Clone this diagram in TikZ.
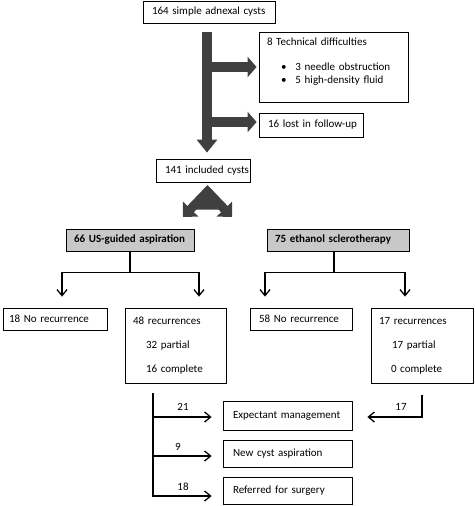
\documentclass[tikz,border=0pt]{standalone}
\usepackage{fontspec}
\setmainfont{Carlito}
\usetikzlibrary{arrows.meta,calc}
\definecolor{fatgray}{HTML}{404040}
\definecolor{boxgray}{HTML}{C8C8C8}
\begin{document}
\begin{tikzpicture}[x=1pt,y=-1pt,
  box/.style={draw, line width=0.8pt, align=left, font=\fontsize{11}{13}\selectfont, inner ysep=2pt, inner xsep=0pt},
  gbox/.style={box, fill=boxgray, font=\fontsize{11}{13}\selectfont\bfseries},
  thinline/.style={line width=1.3pt},
  arr/.style={thinline, -{Straight Barb[length=6pt,width=10pt]}},
  fat/.style={line width=10pt, draw=fatgray, fill=fatgray},
  lbl/.style={font=\fontsize{11}{13}\selectfont, inner sep=0pt}
]
\useasboundingbox (0,0) rectangle (474,506);

% boxes
\node[box, minimum width=132pt, minimum height=22pt, text width=132pt] (n164) at (209,12) {\hspace*{9pt}164 simple adnexal cysts};
\node[box, minimum width=149pt, minimum height=70pt, text width=149pt, text depth=50pt] (tech) at (333.5,67)
  {\hspace*{8pt}8 Technical difficulties\\[12pt]
   \hspace*{22pt}•\hspace{9pt}3 needle obstruction\\
   \hspace*{22pt}•\hspace{9pt}5 high-density fluid};
\node[box, minimum width=104pt, minimum height=24pt, text width=104pt] (lost) at (311,125) {\hspace*{9pt}16 lost in follow-up};
\node[box, minimum width=94pt, minimum height=23pt, text width=94pt] (inc) at (203,170.5) {\hspace*{9pt}141 included cysts};
\node[gbox, minimum width=128pt, minimum height=22pt, text width=128pt] (us) at (130,240) {\hspace*{8pt}66 US-guided aspiration};
\node[gbox, minimum width=142pt, minimum height=22pt, text width=142pt] (eth) at (338,240) {\hspace*{8pt}75 ethanol sclerotherapy};
\node[box, minimum width=104pt, minimum height=22pt, text width=104pt] (no18) at (55,319) {\hspace*{6pt}18 No recurrence};
\node[box, minimum width=101pt, minimum height=75pt, text width=101pt] (rec48) at (175.5,345.5)
  {\hspace*{8pt}48 recurrences\\[11pt]\hspace*{21pt}32 partial\\[11pt]\hspace*{21pt}16 complete};
\node[box, minimum width=102pt, minimum height=22pt, text width=102pt] (no58) at (301,319) {\hspace*{9pt}58 No recurrence};
\node[box, minimum width=102pt, minimum height=75pt, text width=102pt] (rec17) at (422,345.5)
  {\hspace*{8pt}17 recurrences\\[11pt]\hspace*{21pt}17 partial\\[11pt]\hspace*{20pt}0 complete};
\node[box, minimum width=129pt, minimum height=29pt, text width=129pt] (exp) at (287.5,415.5) {\hspace*{10pt}Expectant management};
\node[box, minimum width=129pt, minimum height=27pt, text width=129pt] (newc) at (287.5,453.5) {\hspace*{10pt}New cyst aspiration};
\node[box, minimum width=129pt, minimum height=27pt, text width=129pt] (ref) at (287.5,490.5) {\hspace*{10pt}Referred for surgery};

% fat arrows
\draw[fat, -{Triangle[width=20pt,length=13pt]}] ([xshift=-2pt,yshift=-9pt]n164.south) -- ([xshift=4pt,yshift=6pt]inc.north);
\coordinate (b1) at (207,67);
\coordinate (b2) at (207,122);
\draw[fat, -{Triangle[width=20pt,length=9pt]}] (b1) -- ([xshift=-2pt]tech.west);
\draw[fat, -{Triangle[width=20pt,length=9pt]}] (b2) -- ([xshift=-2pt,yshift=3pt]lost.west);
% chevron
\coordinate (cv) at (207.5,191.5);
\coordinate (cl) at (183,217);
\coordinate (cr) at (232,217);
\draw[line width=9pt, draw=fatgray, fill=fatgray, line join=miter,
  {Triangle[width=21pt,length=11pt]}-{Triangle[width=21pt,length=11pt]}] (cl) -- (cv) -- (cr);

% split arrows
\draw[thinline] (us.south) -- ++(0,21) coordinate (uj);
\draw[arr] (uj) -| ([xshift=7pt,yshift=11pt]no18.north);
\draw[arr] (uj) -| ([xshift=23.5pt,yshift=11pt]rec48.north);
\draw[thinline] ([xshift=-4pt]eth.south) -- ++(0,21) coordinate (ej);
\draw[arr] (ej) -| ([xshift=-36pt,yshift=11pt]no58.north);
\draw[arr] (ej) -| ([xshift=-17pt,yshift=11pt]rec17.north);

% bottom
\coordinate (lt) at ([xshift=-22.5pt,yshift=-10pt]rec48.south);
\coordinate (ea) at ([xshift=-11pt,yshift=-1.5pt]exp.west);
\coordinate (na) at ([xshift=-11pt,yshift=-2.5pt]newc.west);
\draw[arr] (lt) |- ([xshift=-11pt,yshift=-5.5pt]ref.west);
\draw[arr] (lt |- ea) -- (ea);
\draw[arr] (lt |- na) -- (na);
\draw[arr] ([yshift=-12pt]rec17.south) |- ([xshift=15pt,yshift=-1.5pt]exp.east);

\node[lbl] (l21) at (183,407) {21};
\node[lbl] (l9) at (178,447) {9};
\node[lbl] (l18) at (183,487) {18};
\node[lbl] (l17) at (401,407) {17};
\end{tikzpicture}
\end{document}
